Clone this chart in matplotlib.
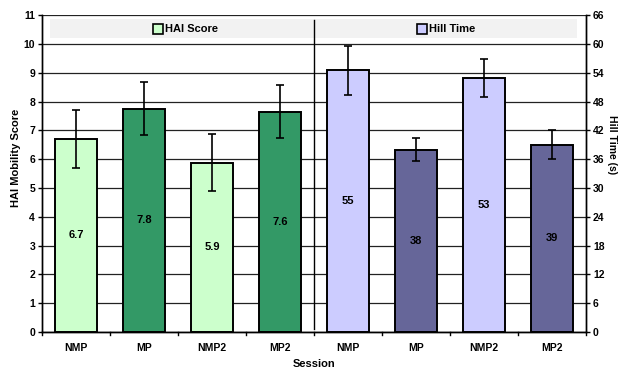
import matplotlib
matplotlib.use("Agg")
import matplotlib.pyplot as plt
from matplotlib.patches import Rectangle

plt.rcParams['font.family'] = ['Liberation Sans', 'DejaVu Sans']
plt.rcParams['font.weight'] = 'bold'

sessions = ["NMP", "MP", "NMP2", "MP2"]
hai_values = [6.7, 7.8, 5.9, 7.6]
hai_bar_heights = [6.7, 7.75, 5.88, 7.65]
hai_err = [1.0, 0.92, 1.0, 0.93]
hill_values = [55, 38, 53, 39]
hill_bar_heights = [54.5, 38.0, 52.9, 39.0]
hill_err = [5.1, 2.3, 4.0, 3.0]

hai_colors = ["#CCFFCC", "#339966", "#CCFFCC", "#339966"]
hill_colors = ["#CCCCFF", "#666699", "#CCCCFF", "#666699"]

W, H = 620, 368
fig = plt.figure(figsize=(6.2, 3.68), dpi=100)
ax = fig.add_axes([0.0677, 0.0978, 0.8775, 0.8612])
ax2 = ax.twinx()

n = len(sessions)
x_hai = list(range(n))
x_hill = [i + n for i in range(n)]
width = 0.63

ax.set_xlim(-0.5, 2 * n - 0.5)
ax.set_ylim(0, 11)
ax2.set_ylim(0, 66)

for y in range(0, 12):
    ax.axhline(y, color="#222222", lw=0.9, zorder=0)

ax.bar(x_hai, hai_bar_heights, width=width, color=hai_colors, edgecolor="black",
       linewidth=1.4, zorder=2)
ax.errorbar(x_hai, hai_bar_heights, yerr=hai_err, fmt="none", ecolor="black",
            elinewidth=1.2, capsize=3, capthick=1.2, zorder=3)
for xi, h, v in zip(x_hai, hai_bar_heights, hai_values):
    ax.text(xi, h / 2, f"{v:.1f}", ha="center", va="center", fontsize=8,
            fontweight="bold", zorder=4)

ax2.bar(x_hill, hill_bar_heights, width=width, color=hill_colors, edgecolor="black",
        linewidth=1.4, zorder=2)
ax2.errorbar(x_hill, hill_bar_heights, yerr=hill_err, fmt="none", ecolor="black",
             elinewidth=1.2, capsize=3, capthick=1.2, zorder=3)
for xi, h, v in zip(x_hill, hill_bar_heights, hill_values):
    ax2.text(xi, h / 2, f"{v:d}", ha="center", va="center", fontsize=8,
             fontweight="bold", zorder=4)

# separator line
ax2.plot([n - 0.5, n - 0.5], [0.6, 65.0], color="black", lw=1.0, zorder=5)

# banners
left_lo, mid, right_hi = -0.38, n - 0.5, 2 * n - 0.63
ax2.add_patch(Rectangle((left_lo, 61.2), mid - left_lo, 3.9, facecolor="#F2F2F2",
                        edgecolor="none", zorder=1.5))
ax2.add_patch(Rectangle((mid, 61.2), right_hi - mid, 3.9, facecolor="#F2F2F2",
                        edgecolor="none", zorder=1.5))
for cx, label, col in [((left_lo + mid) / 2, "HAI Score", "#CCFFCC"),
                       ((mid + right_hi) / 2, "Hill Time", "#CCCCFF")]:
    ax2.plot([cx - 0.35], [63.15], marker="s", markersize=6.5, markerfacecolor=col,
             markeredgecolor="black", markeredgewidth=1.2, zorder=6, clip_on=False)
    ax2.text(cx - 0.25, 63.15, label, ha="left", va="center", fontsize=8,
             fontweight="bold", zorder=6)

ax.set_xticks(x_hai + x_hill)
ax.set_xticklabels(sessions + sessions, fontsize=7.5, fontweight="bold")
ax.tick_params(axis="x", length=0, pad=8)
for b in range(2 * n + 1):
    ax.plot([b - 0.5, b - 0.5], [0, -0.12], color="black", lw=1.0, clip_on=False)

ax.set_yticks(range(0, 12))
ax.set_yticklabels([str(v) for v in range(0, 12)], fontsize=7.5, fontweight="bold")
ax2.set_yticks(range(0, 67, 6))
ax2.set_yticklabels([str(v) for v in range(0, 67, 6)], fontsize=7.5, fontweight="bold")
ax.tick_params(axis="y", length=3, width=1.0, pad=2)
ax2.tick_params(axis="y", length=3, width=1.0, pad=2)

fig.text(16 / W, 1 - 158 / H, "HAI Mobility Score", rotation=90, ha="center",
         va="center", fontsize=8, fontweight="bold")
fig.text(612 / W, 1 - 145 / H, "Hill Time (s)", rotation=270, ha="center",
         va="center", fontsize=7.5, fontweight="bold",
         family=["Liberation Sans Narrow", "Liberation Sans", "DejaVu Sans"])
ax.set_xlabel("Session", fontsize=8, fontweight="bold", labelpad=4)

for a in (ax, ax2):
    a.spines["top"].set_visible(False)
    for s in ("left", "right", "bottom"):
        a.spines[s].set_linewidth(1.0)
        a.spines[s].set_color("black")

fig.savefig("out.png", dpi=100)
